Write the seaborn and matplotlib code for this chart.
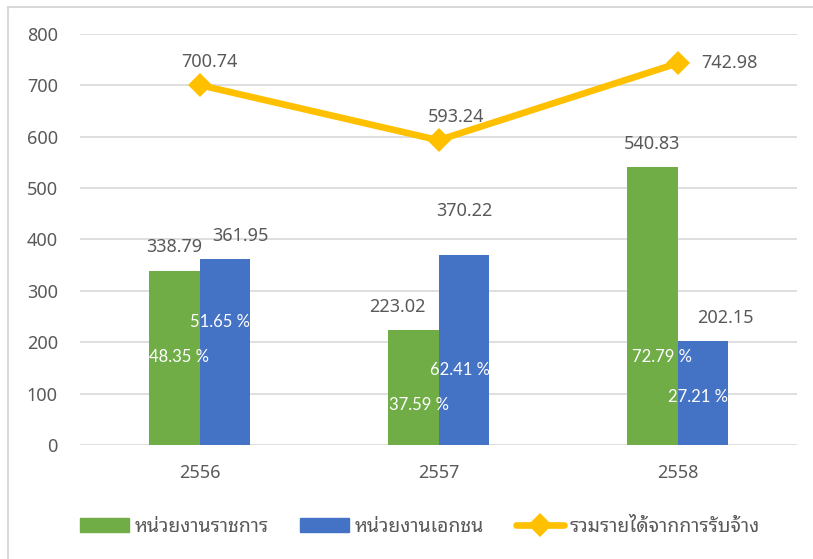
import numpy as np
import pandas as pd
import seaborn as sns
import matplotlib
matplotlib.use("Agg")
import matplotlib.pyplot as plt
from matplotlib.patches import Patch, Rectangle
from matplotlib.lines import Line2D

years = ["2556", "2557", "2558"]
gov = [338.79, 223.02, 540.83]
private = [361.95, 370.22, 202.15]
total = [700.74, 593.24, 742.98]
gov_pct = ["48.35 %", "37.59 %", "72.79 %"]
private_pct = ["51.65 %", "62.41 %", "27.21 %"]
series_names = ["หน่วยงานราชการ", "หน่วยงานเอกชน", "รวมรายได้จากการรับจ้าง"]
yticks = [0, 100, 200, 300, 400, 500, 600, 700, 800]

# label placement (pixel offsets / data heights for the in-bar labels)
gov_lab_dx = [0, -16, 0]
gov_lab_dy = [24, 23, 23]
priv_lab_dx = [15, 0, 22]
priv_lab_dy = [23, 44, 23]
tot_lab_off = [(10, 23), (18, 23), (24, 0)]
tot_lab_ha = ["center", "center", "left"]
gov_pct_y = [171, 77, 171]
gov_pct_dx = [4.5, 5.5, 9.5]
priv_pct_y = [240, 146, 93]
priv_pct_dx = [-4.5, -3.5, -4.5]

sns.set_theme(style="white")
plt.rcParams["font.family"] = ["Noto Sans", "Noto Sans Thai Looped", "DejaVu Sans"]

GREEN = "#70AD47"
BLUE = "#4472C4"
YELLOW = "#FFC000"
GREY = "#595959"

df = pd.DataFrame({
    "year": years * 2,
    "value": gov + private,
    "series": [series_names[0]] * 3 + [series_names[1]] * 3,
})

fig = plt.figure(figsize=(8.13, 5.59), dpi=100)
fig.patches.append(Rectangle((8 / 813, -0.1), 1.2, 1.1 - 7 / 559, transform=fig.transFigure,
                             fill=False, edgecolor="#D9D9D9", lw=1.5))
ax = fig.add_axes([80 / 813, 1 - 445 / 559, 717 / 813, 411 / 559])
sns.barplot(data=df, x="year", y="value", hue="series", palette=[GREEN, BLUE],
            width=0.426, ax=ax, legend=False, saturation=1, linewidth=0)
xs = np.arange(len(years))
sns.lineplot(x=xs, y=total, ax=ax, color=YELLOW, lw=4.8, marker="D",
             markersize=12.5, markeredgewidth=0, legend=False)
ax.set_xlim(-0.5, 2.5)
ax.set_ylim(0, 800)
ax.set_yticks(yticks)
ax.set_xlabel("")
ax.set_ylabel("")
ax.grid(axis="y", color="#D9D9D9", lw=1.2)
ax.set_axisbelow(True)
for s in ax.spines.values():
    s.set_visible(False)
ax.tick_params(axis="both", length=0, labelsize=13, labelcolor=GREY)
ax.tick_params(axis="y", pad=16)
ax.tick_params(axis="x", pad=14)

bw = 0.213
for i in range(3):
    ax.annotate(f"{gov[i]:.2f}", (i - bw / 2, gov[i]), xytext=(gov_lab_dx[i], gov_lab_dy[i]),
                textcoords="offset pixels", ha="center", va="center", fontsize=13, color=GREY)
    ax.annotate(f"{private[i]:.2f}", (i + bw / 2, private[i]), xytext=(priv_lab_dx[i], priv_lab_dy[i]),
                textcoords="offset pixels", ha="center", va="center", fontsize=13, color=GREY)
    ax.annotate(f"{total[i]:.2f}", (i, total[i]), xytext=tot_lab_off[i],
                textcoords="offset pixels", ha=tot_lab_ha[i], va="center", fontsize=13, color=GREY)
    ax.annotate(gov_pct[i], (i - bw / 2, gov_pct_y[i]), xytext=(gov_pct_dx[i], 0),
                textcoords="offset pixels", ha="center", va="center", fontsize=12,
                color="white", family="Lato")
    ax.annotate(private_pct[i], (i + bw / 2, priv_pct_y[i]), xytext=(priv_pct_dx[i], 0),
                textcoords="offset pixels", ha="center", va="center", fontsize=12,
                color="white", family="Lato")

handles = [Patch(color=GREEN), Patch(color=BLUE),
           Line2D([], [], color=YELLOW, lw=4.8, marker="D", markersize=12.5, markeredgewidth=0)]
fig.legend(handles, series_names, loc="center", bbox_to_anchor=(0.517, 1 - 527 / 559), ncol=3,
           frameon=False, fontsize=14, labelcolor=GREY, handlelength=2.5, handleheight=0.7,
           columnspacing=1.62, handletextpad=0.3)

fig.savefig("out.png", dpi=100)
